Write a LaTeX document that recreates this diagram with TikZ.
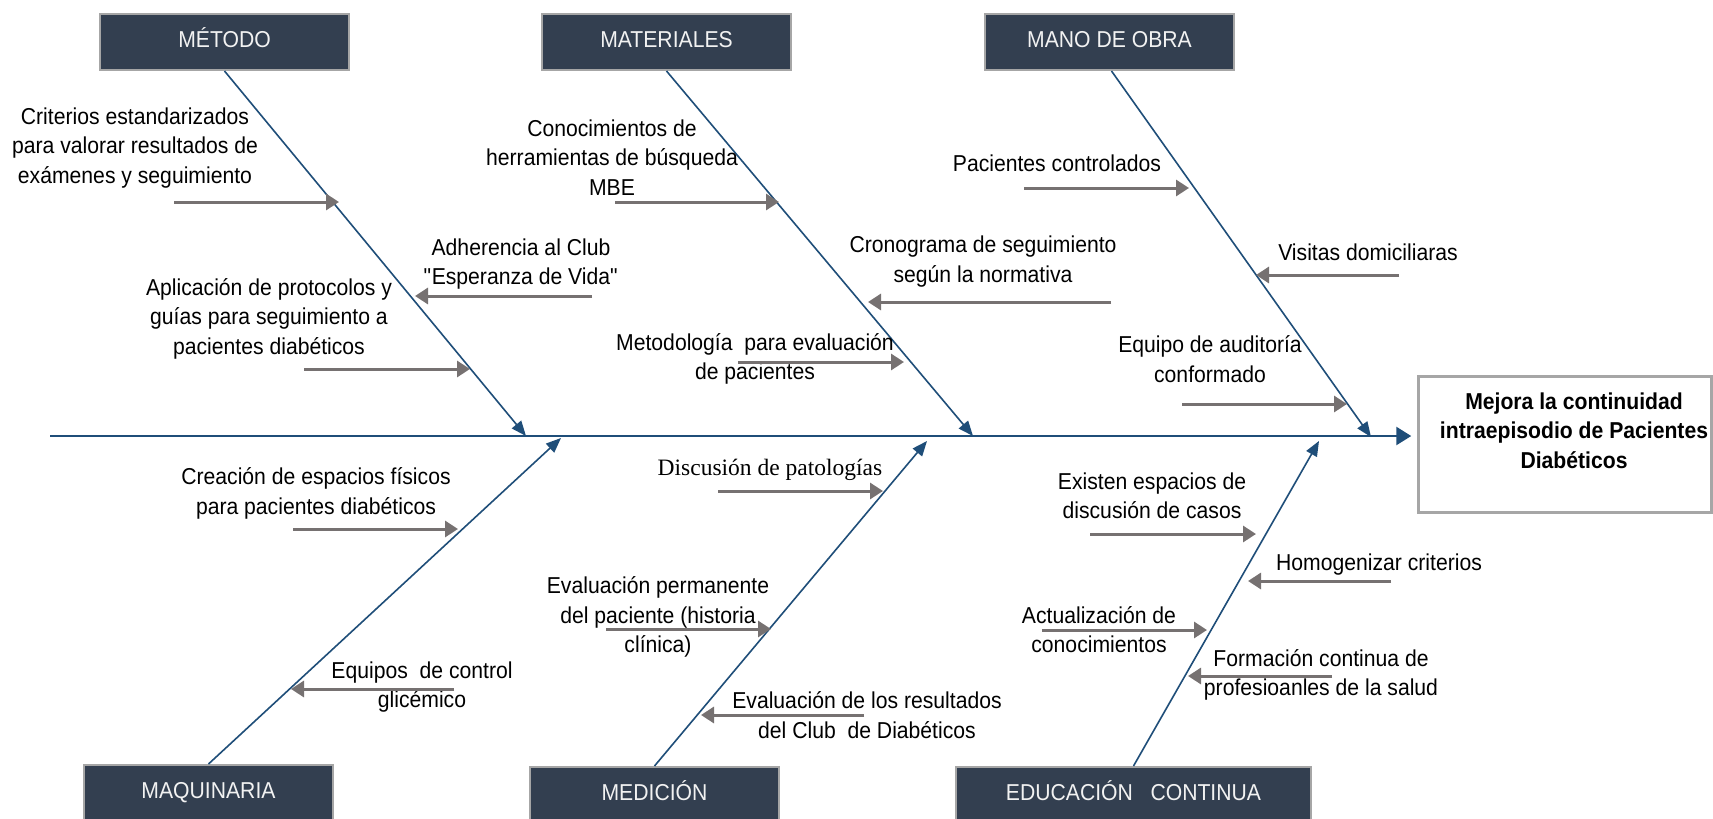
\documentclass[tikz,border=0pt]{standalone}
\usepackage{fontspec}
\setmainfont{Liberation Sans}[FakeStretch=0.92]
\newfontfamily\serifpat{Liberation Serif}
\usetikzlibrary{arrows.meta}
\definecolor{boxfill}{HTML}{333F50}
\definecolor{boxline}{HTML}{A6A6A6}
\definecolor{bone}{HTML}{1F4E79}
\definecolor{subarrow}{HTML}{767171}
\definecolor{boxtext}{HTML}{F2F2F2}
\begin{document}
\begin{tikzpicture}[x=1pt,y=-1pt,
  catbox/.style={draw=boxline, line width=2pt, fill=boxfill, text=boxtext, minimum width=249pt, minimum height=56pt, inner sep=0pt, text height=16.5pt, text depth=5pt, font=\fontsize{23}{28}\selectfont},
  lbl/.style={align=center, inner sep=0pt, font=\fontsize{23}{29.5}\selectfont, execute at begin node=\strut, execute at end node=\strut},
  bonearrow/.style={draw=bone, line width=1.6pt, -{Triangle[length=15pt,width=12pt]}},
  spinearrow/.style={draw=bone, line width=2.6pt, -{Triangle[length=15pt,width=18pt]}},
  subarr/.style={draw=subarrow, line width=3pt, -{Triangle[length=13pt,width=16pt]}},
]
\useasboundingbox (0,0) rectangle (1713,819);
\fill[white] (0,0) rectangle (1713,819);

% category boxes
\node[catbox] (metodo) at (224.5,42) {MÉTODO};
\node[catbox] (materiales) at (666.5,42) {MATERIALES};
\node[catbox] (manoobra) at (1109.5,42) {MANO DE OBRA};
\node[catbox] (maquinaria) at (208.5,793) {MAQUINARIA};
\node[catbox] (medicion) at (654.5,795) {MEDICIÓN};
\node[catbox, minimum width=355pt] (educacion) at (1133.5,795) {EDUCACIÓN\ \ \ CONTINUA};

% result box
\node[draw=boxline, line width=2.5pt, minimum width=293pt, minimum height=136pt, inner sep=0pt] (res) at (1565,444.5) {};
\node[lbl, font=\bfseries\fontsize{23}{29.5}\selectfont] (restext) at (1574,434.7) {Mejora la continuidad\\intraepisodio de Pacientes\\Diabéticos};

% spine
\coordinate (spineL) at (50,436);
\draw[spinearrow, shorten >=6pt] (spineL) -- (spineL -| res.west);

% bone tips
\coordinate (tMet) at (526,436);
\coordinate (tMat) at (973,436);
\coordinate (tMan) at (1371,437);
\coordinate (tMaq) at (561,438);
\coordinate (tMed) at (927,441);
\coordinate (tEdu) at (1319,441);
\draw[bonearrow] (metodo.south) -- (tMet);
\draw[bonearrow] (materiales.south) -- (tMat);
\draw[bonearrow] ([xshift=2pt]manoobra.south) -- (tMan);
\draw[bonearrow] (maquinaria.north) -- (tMaq);
\draw[bonearrow] (medicion.north) -- (tMed);
\draw[bonearrow] (educacion.north) -- (tEdu);

% labels
\node[lbl] (crit) at (135,150) {Criterios estandarizados\\para valorar resultados de\\exámenes y seguimiento};
\node[lbl] (conoc) at (612,162) {Conocimientos de\\herramientas de búsqueda\\MBE};
\node[lbl] (adher) at (521,266) {Adherencia al Club\\\textquotedbl Esperanza de Vida\textquotedbl};
\node[lbl] (aplic) at (269,320.5) {Aplicación de protocolos y\\guías para seguimiento a\\pacientes diabéticos};
\node[lbl] (crono) at (983,263.5) {Cronograma de seguimiento\\según la normativa};
\node[lbl] (metod) at (755,361) {Metodología\ \ para evaluación\\de pacientes};
\node[lbl] (pacien) at (1057,166) {Pacientes controlados};
\node[lbl] (visit) at (1368,254.4) {Visitas domiciliaras};
\node[lbl] (equipo) at (1210,363.4) {Equipo de auditoría\\conformado};
\node[lbl] (creac) at (316,495.4) {Creación de espacios físicos\\para pacientes diabéticos};
\node[lbl] (equipos) at (422,688.9) {Equipos\ \ de control\\glicémico};
\node[lbl, font=\serifpat\fontsize{23.5}{29.5}\selectfont] (discus) at (770,469.4) {Discusión de patologías};
\node[lbl] (evalp) at (658,619) {Evaluación permanente\\del paciente (historia\\clínica)};
\node[lbl] (evalr) at (867,719.4) {Evaluación de los resultados\\del Club\ \ de Diabéticos};
\node[lbl] (exist) at (1152,499.9) {Existen espacios de\\discusión de casos};
\node[lbl] (homog) at (1379,564.4) {Homogenizar criterios};
\node[lbl] (actual) at (1099,633.9) {Actualización de\\conocimientos};
\node[lbl] (formac) at (1321,676.9) {Formación continua de\\profesioanles de la salud};

% sub-cause arrows
\coordinate (a1s) at (174,202);  \coordinate (a1e) at (339,202);
\coordinate (a2s) at (304,369);  \coordinate (a2e) at (470,369);
\coordinate (a3s) at (592,296);  \coordinate (a3e) at (415,296);
\coordinate (a4s) at (615,202);  \coordinate (a4e) at (779,202);
\coordinate (a5s) at (1111,302); \coordinate (a5e) at (868,302);
\coordinate (a6s) at (738,362);  \coordinate (a6e) at (904,362);
\coordinate (a7s) at (1024,188); \coordinate (a7e) at (1189,188);
\coordinate (a8s) at (1399,275); \coordinate (a8e) at (1256,275);
\coordinate (a9s) at (1182,404); \coordinate (a9e) at (1347,404);
\coordinate (a10s) at (293,529); \coordinate (a10e) at (458,529);
\coordinate (a11s) at (454,689); \coordinate (a11e) at (291,689);
\coordinate (a12s) at (718,491); \coordinate (a12e) at (883,491);
\coordinate (a13s) at (606,629); \coordinate (a13e) at (771,629);
\coordinate (a14s) at (864,715); \coordinate (a14e) at (701,715);
\coordinate (a15s) at (1090,534); \coordinate (a15e) at (1256,534);
\coordinate (a16s) at (1391,581); \coordinate (a16e) at (1248,581);
\coordinate (a17s) at (1042,630); \coordinate (a17e) at (1207,630);
\coordinate (a18s) at (1332,676); \coordinate (a18e) at (1188,676);
\foreach \i in {1,...,18} {\draw[subarr] (a\i s) -- (a\i e);}
\end{tikzpicture}
\end{document}
